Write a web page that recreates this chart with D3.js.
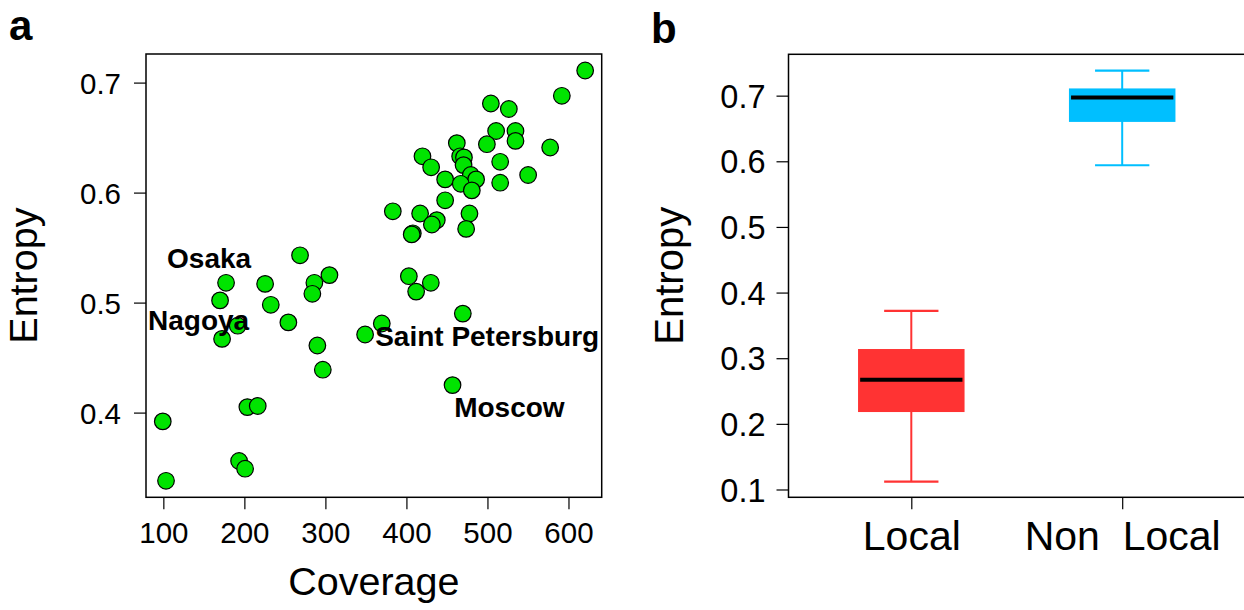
<!DOCTYPE html>
<html>
<head>
<meta charset="utf-8">
<script src="https://cdn.jsdelivr.net/npm/d3@7"></script>
<style>
  html, body { margin: 0; padding: 0; background: #fff; }
  svg { display: block; font-family: "Liberation Sans", Arial, Helvetica, sans-serif; }
</style>
</head>
<body>
<svg id="chart" width="1244" height="610"></svg>
<script>
// ---------- Panel a data ----------
const coverage = [620.6, 591.8, 504.2, 526.4, 510.7, 534.6, 534.6, 499.3, 577.4, 462.2,
  466.3, 471.0, 470.5, 419.8, 430.5, 515.7, 447.8, 479.5, 486.0, 467.1,
  480.7, 515.7, 550.2, 447.8, 383.2, 416.9, 437.5, 431.4, 477.8, 473.7,
  407.9, 406.5, 268.7, 177.4, 225.6, 305.0, 286.4, 283.9, 170.0, 232.6,
  254.3, 191.8, 172.5, 290.1, 296.8, 203.7, 216.5, 99.3, 193.5, 200.9,
  103.3, 349.0, 369.6, 403.0, 430.1, 412.0, 469.6, 456.9];
const entropy = [0.711, 0.688, 0.681, 0.676, 0.656, 0.656, 0.647, 0.644, 0.641, 0.645,
  0.633, 0.632, 0.625, 0.633, 0.623, 0.628, 0.612, 0.616, 0.612, 0.608,
  0.602, 0.609, 0.616, 0.593, 0.583, 0.581, 0.575, 0.571, 0.581, 0.567,
  0.563, 0.562, 0.543, 0.518, 0.517, 0.525, 0.518, 0.508, 0.502, 0.498,
  0.482, 0.479, 0.467, 0.461, 0.439, 0.405, 0.406, 0.392, 0.356, 0.349,
  0.338, 0.471, 0.481, 0.524, 0.518, 0.510, 0.490, 0.425];
const cityNames = ["Osaka", "Nagoya", "Saint Petersburg", "Moscow"];
const cityX = [104.6, 81.1, 361.4, 458.9];
const cityY = [0.5315, 0.4752, 0.4603, 0.3964];
const xTicksA = [100, 200, 300, 400, 500, 600];
const yTicksA = [0.4, 0.5, 0.6, 0.7];

// ---------- Panel b data ----------
const groups = ["Local", "Non  Local"];
const whiskerLow = [0.112, 0.594];
const q1 = [0.218, 0.660];
const median = [0.267, 0.697];
const q3 = [0.314, 0.711];
const whiskerHigh = [0.372, 0.738];
const boxColors = ["#ff3333", "#00bfff"];
const yTicksB = [0.1, 0.2, 0.3, 0.4, 0.5, 0.6, 0.7];

const svg = d3.select("#chart");

// ================= Panel a =================
const A = { left: 146, right: 601.7, top: 54, bottom: 497.3 };
const xA = d3.scaleLinear().domain([78.6, 641]).range([A.left, A.right]);
const yA = d3.scaleLinear().domain([0.323, 0.726]).range([A.bottom, A.top]);

const gA = svg.append("g");
gA.append("rect").attr("x", A.left).attr("y", A.top)
  .attr("width", A.right - A.left).attr("height", A.bottom - A.top)
  .attr("fill", "none").attr("stroke", "#000").attr("stroke-width", 1.5);

const axA_x = gA.append("g").attr("transform", `translate(0,${A.bottom})`)
  .call(d3.axisBottom(xA).tickValues(xTicksA).tickSize(12).tickPadding(12).tickFormat(d3.format("d")));
const axA_y = gA.append("g").attr("transform", `translate(${A.left},0)`)
  .call(d3.axisLeft(yA).tickValues(yTicksA).tickSize(12).tickPadding(13).tickFormat(d3.format(".1f")));
[axA_x, axA_y].forEach(ax => {
  ax.select(".domain").remove();
  ax.selectAll(".tick line").attr("stroke", "#000").attr("stroke-width", 1.2);
  ax.selectAll(".tick text").attr("font-size", 29.5).attr("fill", "#000")
    .attr("font-family", "Liberation Sans, Arial, sans-serif");
});
axA_y.selectAll(".tick text").attr("dy", "0.36em");
axA_x.selectAll(".tick text").attr("dy", "0.72em");

const pts = coverage.map((c, i) => ({ x: c, y: entropy[i] }));
gA.append("g").selectAll("circle").data(pts).join("circle")
  .attr("cx", d => xA(d.x)).attr("cy", d => yA(d.y)).attr("r", 8.3)
  .attr("fill", "#00e400").attr("stroke", "#000").attr("stroke-width", 1.2);

gA.append("g").selectAll("text").data(cityNames).join("text")
  .attr("x", (d, i) => xA(cityX[i])).attr("y", (d, i) => yA(cityY[i]))
  .attr("font-size", 28).attr("font-weight", "bold").attr("fill", "#000")
  .text(d => d);

gA.append("text").attr("x", (A.left + A.right) / 2).attr("y", 595)
  .attr("text-anchor", "middle").attr("font-size", 39.5).text("Coverage");
gA.append("text").attr("transform", `translate(37,${(A.top + A.bottom) / 2}) rotate(-90)`)
  .attr("text-anchor", "middle").attr("font-size", 39.5).text("Entropy");
svg.append("text").attr("x", 9).attr("y", 40).attr("font-size", 42)
  .attr("font-weight", "bold").text("a");

// ================= Panel b =================
const B = { left: 788.5, right: 1250, top: 54.3, bottom: 497.3 };
const xB = d3.scaleLinear().domain([0, 1]).range([911.3, 1122.2]);
const yB = d3.scaleLinear().domain([0.0881, 0.763]).range([B.bottom, B.top]);
const boxW = 0.505, capW = 0.2575;

const gB = svg.append("g");
gB.append("rect").attr("x", B.left).attr("y", B.top)
  .attr("width", B.right - B.left).attr("height", B.bottom - B.top)
  .attr("fill", "none").attr("stroke", "#000").attr("stroke-width", 1.5);

const axB_y = gB.append("g").attr("transform", `translate(${B.left},0)`)
  .call(d3.axisLeft(yB).tickValues(yTicksB).tickSize(12).tickPadding(11).tickFormat(d3.format(".1f")));
const axB_x = gB.append("g").attr("transform", `translate(0,${B.bottom})`)
  .call(d3.axisBottom(xB).tickValues([0, 1]).tickSize(12).tickPadding(11).tickFormat(i => groups[i]));
[axB_x, axB_y].forEach(ax => {
  ax.select(".domain").remove();
  ax.selectAll(".tick line").attr("stroke", "#000").attr("stroke-width", 1.2);
  ax.selectAll(".tick text").attr("fill", "#000")
    .attr("font-family", "Liberation Sans, Arial, sans-serif");
});
axB_y.selectAll(".tick text").attr("font-size", 32.5).attr("dy", "0.36em");
axB_x.selectAll(".tick text").attr("font-size", 41).attr("dy", "0.72em")
  .style("white-space", "pre");

const boxes = groups.map((g, i) => ({
  i, lo: whiskerLow[i], q1: q1[i], med: median[i], q3: q3[i], hi: whiskerHigh[i], col: boxColors[i]
}));
const bg = gB.append("g").selectAll("g").data(boxes).join("g");
// whiskers
bg.append("line").attr("x1", d => xB(d.i)).attr("x2", d => xB(d.i))
  .attr("y1", d => yB(d.lo)).attr("y2", d => yB(d.hi))
  .attr("stroke", d => d.col).attr("stroke-width", 2);
bg.append("line").attr("x1", d => xB(d.i - capW / 2))
  .attr("x2", d => xB(d.i + capW / 2))
  .attr("y1", d => yB(d.lo)).attr("y2", d => yB(d.lo))
  .attr("stroke", d => d.col).attr("stroke-width", 2.2);
bg.append("line").attr("x1", d => xB(d.i - capW / 2))
  .attr("x2", d => xB(d.i + capW / 2))
  .attr("y1", d => yB(d.hi)).attr("y2", d => yB(d.hi))
  .attr("stroke", d => d.col).attr("stroke-width", 2.2);
// box
bg.append("rect").attr("x", d => xB(d.i - boxW / 2)).attr("width", xB(boxW) - xB(0))
  .attr("y", d => yB(d.q3)).attr("height", d => yB(d.q1) - yB(d.q3))
  .attr("fill", d => d.col);
// median
bg.append("line").attr("x1", d => xB(d.i - boxW / 2 + 0.01)).attr("x2", d => xB(d.i + boxW / 2 - 0.01))
  .attr("y1", d => yB(d.med)).attr("y2", d => yB(d.med))
  .attr("stroke", "#000").attr("stroke-width", 4);

gB.append("text").attr("transform", `translate(683,${(B.top + B.bottom) / 2}) rotate(-90)`)
  .attr("text-anchor", "middle").attr("font-size", 40).text("Entropy");
svg.append("text").attr("x", 651).attr("y", 43).attr("font-size", 42)
  .attr("font-weight", "bold").text("b");
</script>
</body>
</html>
